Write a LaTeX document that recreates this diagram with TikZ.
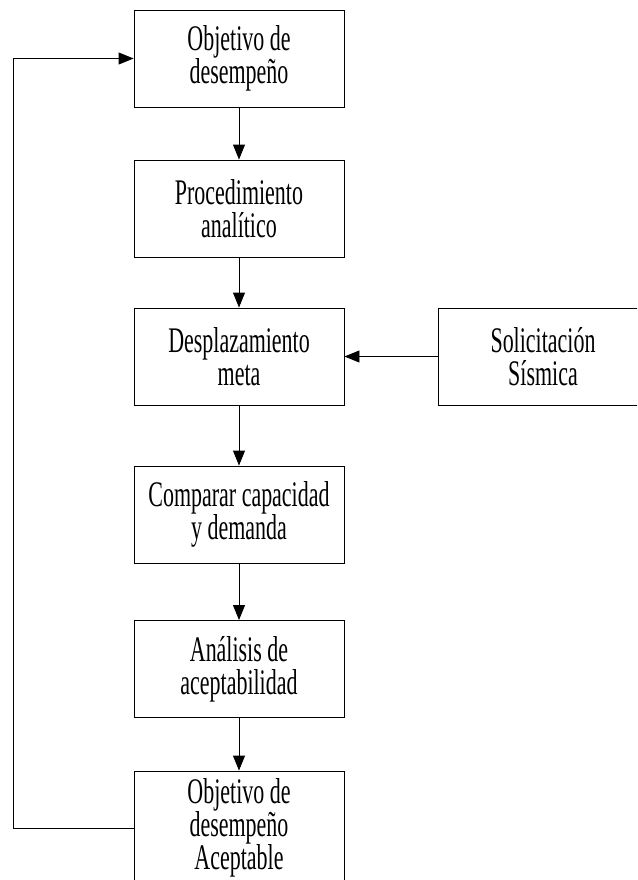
\documentclass[tikz,border=0pt]{standalone}
\usepackage{fontspec}
\setmainfont{Liberation Serif}[FakeStretch=0.61]
\usetikzlibrary{arrows.meta}
\begin{document}
\begin{tikzpicture}[x=1pt,y=-1pt,
  flowbox/.style={draw=black, line width=0.9pt, rectangle, minimum width=210pt,
    minimum height=97pt, inner sep=0pt, align=center,
    font=\fontsize{36}{33}\selectfont},
  flow/.style={draw=black, line width=0.9pt, -{Triangle[length=15pt,width=12pt]}}]
\useasboundingbox (0,0) rectangle (637,880);
\clip (0,0) rectangle (637,880);
\node[flowbox] (obj)  at (239,58.5) {Objetivo de\\desempeño};
\node[flowbox] (proc) at (239,208.5) {Procedimiento\\analítico};
\node[flowbox] (desp) at (239,356.5) {Desplazamiento\\meta};
\node[flowbox] (comp) at (239,514.5) {Comparar capacidad\\y demanda};
\node[flowbox] (anal) at (239,669) {Análisis de\\aceptabilidad};
\node[flowbox, minimum height=114pt] (acep) at (239,828) {Objetivo de\\desempeño\\Aceptable};
\node[flowbox] (sol)  at (543,356.5) {Solicitación\\Sísmica};
\draw[flow] (obj) -- (proc);
\draw[flow] (proc) -- (desp);
\draw[flow] (desp) -- (comp);
\draw[flow] (comp) -- (anal);
\draw[flow] (anal) -- (acep);
\draw[flow] (sol) -- (desp);
\draw[flow] (acep.west) -- ++(-120,0) |- (obj.west);
\end{tikzpicture}
\end{document}
